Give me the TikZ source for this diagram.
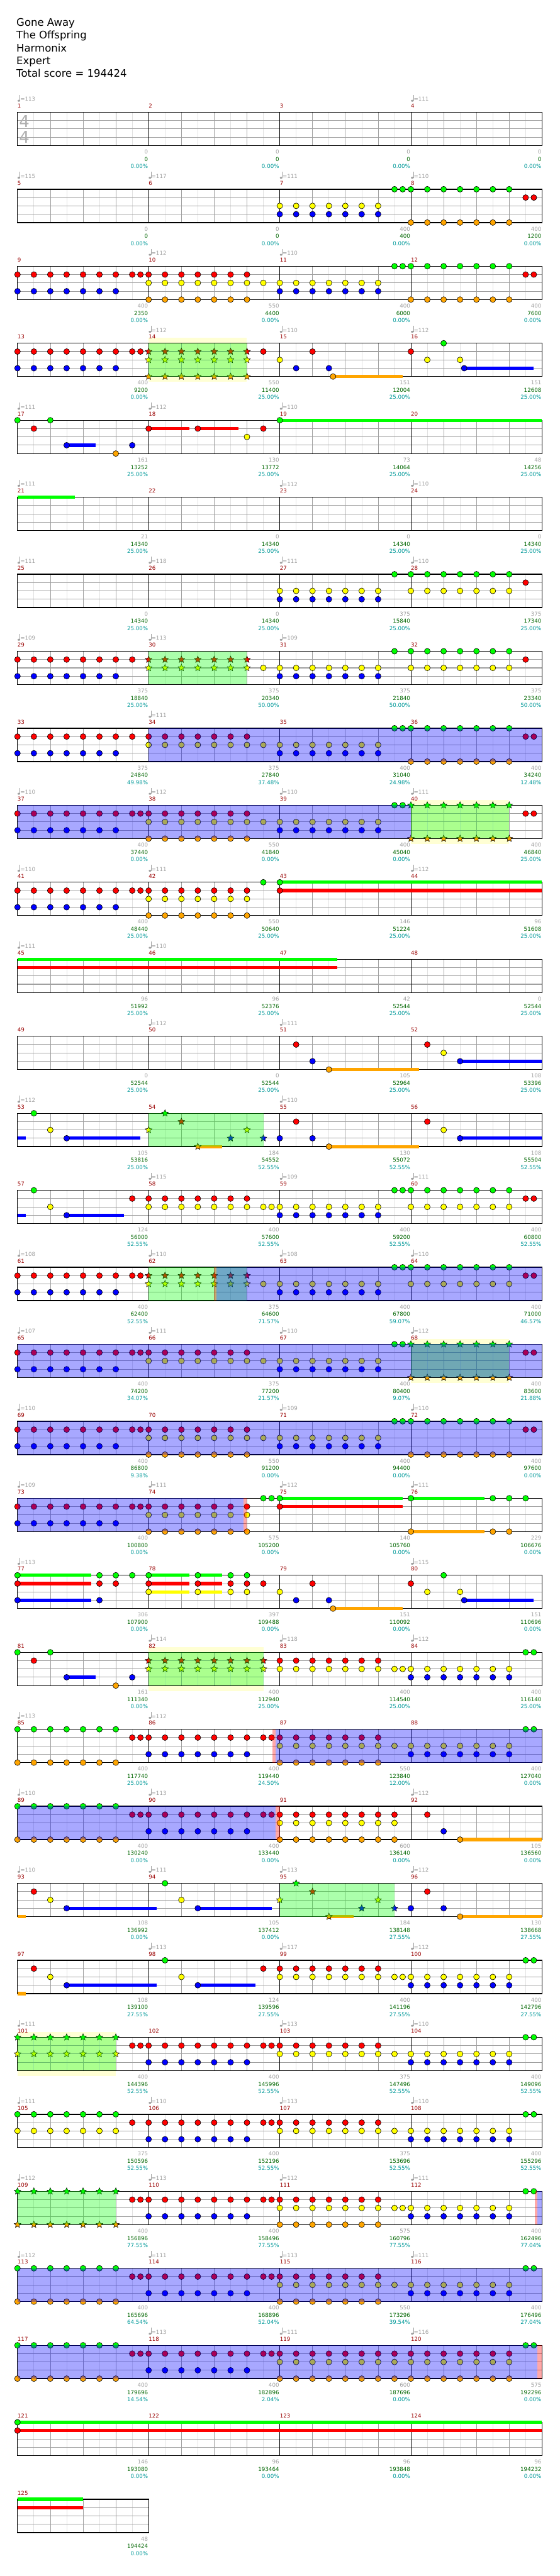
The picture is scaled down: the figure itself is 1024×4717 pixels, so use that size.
\documentclass[tikz,border=0pt]{standalone}
\usepackage{fontspec}
\setmainfont{DejaVu Sans}
\usepackage{tikz}
\usetikzlibrary{shapes.geometric}

\definecolor{lanegreen}{RGB}{0,255,0}
\definecolor{lanered}{RGB}{255,0,0}
\definecolor{laneyellow}{RGB}{255,255,0}
\definecolor{laneblue}{RGB}{0,0,255}
\definecolor{laneorange}{RGB}{255,165,0}
\definecolor{barred}{RGB}{153,0,0}
\definecolor{ptsgray}{RGB}{160,160,160}
\definecolor{sumgreen}{RGB}{0,102,0}
\definecolor{pctteal}{RGB}{0,153,153}
\definecolor{bandyellow}{RGB}{255,255,212}
\definecolor{halfgray}{RGB}{225,225,225}
\definecolor{beatgray}{RGB}{160,160,160}
\definecolor{sigray}{RGB}{175,175,175}

\tikzset{
  lbl/.style={font=\fontsize{10}{12}\selectfont, inner sep=0pt},
  songtitle/.style={font=\fontsize{19}{23}\selectfont, inner sep=0pt, anchor=base west},
  gem/.style={circle, draw=black, line width=0.7pt, minimum size=10.6pt, inner sep=0pt},
  stargem/.style={star, star points=5, star point ratio=2.2, draw=black, line width=0.6pt, minimum size=13pt, inner sep=0pt},
  halfline/.style={halfgray, line width=0.8pt},
  beatline/.style={beatgray, line width=0.8pt},
  laneline/.style={beatgray, line width=1.2pt},
  barline/.style={black, line width=0.9pt},
  border/.style={black, line width=1.5pt},
  sustbar/.style={line width=6pt},
}

% RIGA: griglia
\newcommand{\rowgrid}[2]{%
  \pgfmathsetmacro{\rowT}{205.5+141*(#1-1)}%
  \pgfmathtruncatemacro{\nlast}{8*#2-1}%
  \foreach \e in {1,...,\nlast}{%
    \pgfmathtruncatemacro{\odd}{mod(\e,2)}%
    \ifnum\odd=1
      \draw[halfline] (32+30*\e,\rowT) -- ++(0,61);
    \else
      \draw[beatline] (32+30*\e,\rowT) -- ++(0,61);
    \fi
  }
  \foreach \lane in {1,2,3}
    \draw[laneline] (32,\rowT+15.25*\lane) -- ++(240*#2,0);
  \foreach \jj in {1,...,#2}
    \draw[barline] (32+240*\jj-240,\rowT) -- ++(0,61);
  \draw[border] (32,\rowT) rectangle ++(240*#2,61);
}
% NOTE: riga, corda, colore, posizioni (ottavi)
\newcommand{\gems}[4]{%
  \pgfmathsetmacro{\rowT}{205.5+141*(#1-1)}%
  \foreach \pos [count=\idx] in {#4}
    \node[gem, fill=#3] (gem-#1-#2-\idx) at (32+30*\pos,\rowT+15.25*#2) {};
}
\newcommand{\stargems}[4]{%
  \pgfmathsetmacro{\rowT}{205.5+141*(#1-1)}%
  \foreach \pos [count=\idx] in {#4}
    \node[stargem, fill=#3] (star-#1-#2-\idx) at (32+30*\pos,\rowT+15.25*#2) {};
}
\newcommand{\sust}[5]{%
  \pgfmathsetmacro{\rowT}{205.5+141*(#1-1)}%
  \draw[sustbar, #3] (32+30*#4,\rowT+15.25*#2) -- (32+30*#5,\rowT+15.25*#2);
}
% ZONE
\newcommand{\spband}[3]{%
  \pgfmathsetmacro{\rowT}{205.5+141*(#1-1)}%
  \fill[bandyellow] (32+30*#2,\rowT-10) rectangle (32+30*#3,\rowT+71);
}
\newcommand{\spzone}[3]{%
  \pgfmathsetmacro{\rowT}{205.5+141*(#1-1)}%
  \fill[lanegreen, fill opacity=0.33] (32+30*#2,\rowT) rectangle (32+30*#3,\rowT+61);
}
\newcommand{\odzone}[3]{%
  \pgfmathsetmacro{\rowT}{205.5+141*(#1-1)}%
  \fill[laneblue, fill opacity=0.34] (32+30*#2,\rowT) rectangle (32+30*#3,\rowT+61);
}
\newcommand{\pinkzone}[3]{%
  \pgfmathsetmacro{\rowT}{205.5+141*(#1-1)}%
  \fill[lanered, fill opacity=0.34] (32+30*#2,\rowT) rectangle (32+30*#3,\rowT+61);
}
% TESTI
\newcommand{\tempos}[2]{%
  \pgfmathsetmacro{\rowT}{205.5+141*(#1-1)}%
  \foreach \jj/\bpm in {#2}{
    \pgfmathtruncatemacro{\mnum}{4*(#1-1)+\jj+1}
    \fill[ptsgray] (32+240*\jj+2.5,\rowT-21) ellipse (2.4pt and 1.8pt);
    \draw[ptsgray, line width=0.8pt] (32+240*\jj+4.6,\rowT-21) -- ++(0,-11);
    \node[lbl, ptsgray, anchor=west] (tempo-\mnum) at (32+240*\jj+5,\rowT-24) {=\bpm};
  }
}
\newcommand{\barnums}[2]{%
  \pgfmathsetmacro{\rowT}{205.5+141*(#1-1)}%
  \foreach \jj in {1,...,#2}{
    \pgfmathtruncatemacro{\mnum}{4*(#1-1)+\jj}
    \node[lbl, barred, anchor=west] (bar-\mnum) at (32+240*\jj-240,\rowT-11.5) {\mnum};
  }
}
\newcommand{\scorerow}[2]{%
  \pgfmathsetmacro{\rowT}{205.5+141*(#1-1)}%
  \foreach \jj/\ptsv/\sumv/\pctv in {#2}{
    \pgfmathtruncatemacro{\mnum}{4*(#1-1)+\jj+1}
    \node[lbl, ptsgray, anchor=east] (pts-\mnum) at (31+240*\jj+240,\rowT+72.5) {\ptsv};
    \node[lbl, sumgreen, anchor=east] (sum-\mnum) at (31+240*\jj+240,\rowT+86) {\sumv};
    \node[lbl, pctteal, anchor=east] (pct-\mnum) at (31+240*\jj+240,\rowT+99) {\pctv\%};
  }
}

\begin{document}
\begin{tikzpicture}[x=1pt, y=-1pt]
  \useasboundingbox (0,0) rectangle (1024,4717);
  \fill[white] (0,0) rectangle (1024,4717);

  % TITOLO
  \node[songtitle] (song) at (30,48) {Gone Away};
  \node[songtitle] (artist) at (30,71.3) {The Offspring};
  \node[songtitle] (author) at (30,94.6) {Harmonix};
  \node[songtitle] (level) at (30,117.9) {Expert};
  \node[songtitle] (total) at (30,141) {Total score = 194424};

  % RIGA 1
  \rowgrid{1}{4}
  \node[font=\fontsize{30}{30}\selectfont, sigray, inner sep=0pt] (sig-top) at (44.5,222.5) {4};
  \node[font=\fontsize{30}{30}\selectfont, sigray, inner sep=0pt] (sig-bot) at (44.5,251.3) {4};
  \tempos{1}{0/113,3/111}
  \barnums{1}{4}
  \scorerow{1}{0/0/0/0.00,1/0/0/0.00,2/0/0/0.00,3/0/0/0.00}

  % RIGA 2
  \rowgrid{2}{4}
  \gems{2}{0}{lanegreen}{23,23.5,24,25,26,27,28,29,30}
  \gems{2}{1}{lanered}{31,31.5}
  \gems{2}{2}{laneyellow}{16,...,22}
  \gems{2}{3}{laneblue}{16,...,22}
  \gems{2}{4}{laneorange}{24,...,30}
  \tempos{2}{0/115,1/117,2/111,3/110}
  \barnums{2}{4}
  \scorerow{2}{0/0/0/0.00,1/0/0/0.00,2/400/400/0.00,3/400/1200/0.00}

  % RIGA 3
  \rowgrid{3}{4}
  \gems{3}{0}{lanegreen}{23,23.5,24,25,26,27,28,29,30}
  \gems{3}{1}{lanered}{0,1,2,3,4,5,6,7,7.5,8,9,10,11,12,13,14,31,31.5}
  \gems{3}{2}{laneyellow}{8,...,22}
  \gems{3}{3}{laneblue}{0,1,2,3,4,5,6,16,17,18,19,20,21,22}
  \gems{3}{4}{laneorange}{8,9,10,11,12,13,14,24,25,26,27,28,29,30}
  \tempos{3}{1/112,2/110}
  \barnums{3}{4}
  \scorerow{3}{0/400/2350/0.00,1/550/4400/0.00,2/400/6000/0.00,3/400/7600/0.00}

  % RIGA 4
  \spband{4}{8}{14}
  \rowgrid{4}{4}
  \sust{4}{4}{laneorange}{19.25}{23.5}
  \sust{4}{3}{laneblue}{27.25}{31.5}
  \gems{4}{0}{lanegreen}{26}
  \gems{4}{1}{lanered}{0,1,2,3,4,5,6,7,7.5,15,18,24}
  \gems{4}{2}{laneyellow}{16,25,27}
  \gems{4}{3}{laneblue}{0,1,2,3,4,5,6,17,19,27.25}
  \gems{4}{4}{laneorange}{19.25}
  \stargems{4}{1}{lanered}{8,...,14}
  \stargems{4}{2}{laneyellow}{8,...,14}
  \stargems{4}{4}{laneorange}{8,...,14}
  \spzone{4}{8}{14}
  \tempos{4}{1/112,2/110,3/112}
  \barnums{4}{4}
  \scorerow{4}{0/400/9200/0.00,1/550/11400/25.00,2/151/12004/25.00,3/151/12608/25.00}

  % RIGA 5
  \rowgrid{5}{4}
  \sust{5}{3}{laneblue}{3}{4.75}
  \sust{5}{1}{lanered}{8}{10.5}
  \sust{5}{1}{lanered}{11}{13.5}
  \sust{5}{0}{lanegreen}{16}{32}
  \gems{5}{0}{lanegreen}{0,2,16}
  \gems{5}{1}{lanered}{1,8,11,15}
  \gems{5}{2}{laneyellow}{14}
  \gems{5}{3}{laneblue}{3,7}
  \gems{5}{4}{laneorange}{6}
  \tempos{5}{0/111,1/112,2/110}
  \barnums{5}{4}
  \scorerow{5}{0/161/13252/25.00,1/130/13772/25.00,2/73/14064/25.00,3/48/14256/25.00}

  % RIGA 6
  \rowgrid{6}{4}
  \sust{6}{0}{lanegreen}{0}{3.5}
  \tempos{6}{0/111,2/112,3/110}
  \barnums{6}{4}
  \scorerow{6}{0/21/14340/25.00,1/0/14340/25.00,2/0/14340/25.00,3/0/14340/25.00}

  % RIGA 7
  \rowgrid{7}{4}
  \gems{7}{0}{lanegreen}{23,24,25,26,27,28,29,30}
  \gems{7}{1}{lanered}{31}
  \gems{7}{2}{laneyellow}{16,17,18,19,20,21,22,24,25,26,27,28,29,30}
  \gems{7}{3}{laneblue}{16,...,22}
  \tempos{7}{0/111,1/118,2/111,3/110}
  \barnums{7}{4}
  \scorerow{7}{0/0/14340/25.00,1/0/14340/25.00,2/375/15840/25.00,3/375/17340/25.00}

  % RIGA 8
  \rowgrid{8}{4}
  \gems{8}{0}{lanegreen}{23,24,25,26,27,28,29,30}
  \gems{8}{1}{lanered}{0,1,2,3,4,5,6,7,31}
  \gems{8}{2}{laneyellow}{15,16,17,18,19,20,21,22,24,25,26,27,28,29,30}
  \gems{8}{3}{laneblue}{0,1,2,3,4,5,6,16,17,18,19,20,21,22}
  \stargems{8}{1}{lanered}{8,...,14}
  \stargems{8}{2}{laneyellow}{8,...,14}
  \spzone{8}{8}{14}
  \tempos{8}{0/109,1/113,2/109}
  \barnums{8}{4}
  \scorerow{8}{0/375/18840/25.00,1/375/20340/50.00,2/375/21840/50.00,3/375/23340/50.00}

  % RIGA 9
  \rowgrid{9}{4}
  \gems{9}{0}{lanegreen}{23,23.5,24,25,26,27,28,29,30}
  \gems{9}{1}{lanered}{0,1,2,3,4,5,6,7,8,9,10,11,12,13,14,31,31.5}
  \gems{9}{2}{laneyellow}{8,...,22}
  \gems{9}{3}{laneblue}{0,1,2,3,4,5,6,16,17,18,19,20,21,22}
  \gems{9}{4}{laneorange}{24,...,30}
  \odzone{9}{8}{32}
  \tempos{9}{1/111}
  \barnums{9}{4}
  \scorerow{9}{0/375/24840/49.98,1/375/27840/37.48,2/400/31040/24.98,3/400/34240/12.48}

  % RIGA 10
  \spband{10}{24}{30}
  \rowgrid{10}{4}
  \gems{10}{0}{lanegreen}{23,23.5}
  \gems{10}{1}{lanered}{0,1,2,3,4,5,6,7,7.5,8,9,10,11,12,13,14,31,31.5}
  \gems{10}{2}{laneyellow}{8,...,22}
  \gems{10}{3}{laneblue}{0,1,2,3,4,5,6,16,17,18,19,20,21,22}
  \gems{10}{4}{laneorange}{8,...,14}
  \stargems{10}{0}{lanegreen}{24,...,30}
  \stargems{10}{4}{laneorange}{24,...,30}
  \odzone{10}{0}{24}
  \spzone{10}{24}{30}
  \tempos{10}{0/110,1/112,2/110,3/111}
  \barnums{10}{4}
  \scorerow{10}{0/400/37440/0.00,1/550/41840/0.00,2/400/45040/0.00,3/400/46840/25.00}

  % RIGA 11
  \rowgrid{11}{4}
  \sust{11}{0}{lanegreen}{16}{32}
  \sust{11}{1}{lanered}{16}{32}
  \gems{11}{0}{lanegreen}{15,16}
  \gems{11}{1}{lanered}{0,1,2,3,4,5,6,7,7.5,8,9,10,11,12,13,14,16}
  \gems{11}{2}{laneyellow}{8,...,14}
  \gems{11}{3}{laneblue}{0,...,6}
  \gems{11}{4}{laneorange}{8,...,14}
  \tempos{11}{0/110,1/111,3/112}
  \barnums{11}{4}
  \scorerow{11}{0/400/48440/25.00,1/550/50640/25.00,2/146/51224/25.00,3/96/51608/25.00}

  % RIGA 12
  \rowgrid{12}{4}
  \sust{12}{0}{lanegreen}{0}{19.5}
  \sust{12}{1}{lanered}{0}{19.5}
  \tempos{12}{0/111,1/110}
  \barnums{12}{4}
  \scorerow{12}{0/96/51992/25.00,1/96/52376/25.00,2/42/52544/25.00,3/0/52544/25.00}

  % RIGA 13
  \rowgrid{13}{4}
  \sust{13}{4}{laneorange}{19}{24.5}
  \sust{13}{3}{laneblue}{27}{32}
  \gems{13}{1}{lanered}{17,25}
  \gems{13}{2}{laneyellow}{26}
  \gems{13}{3}{laneblue}{18,27}
  \gems{13}{4}{laneorange}{19}
  \tempos{13}{1/112,2/111}
  \barnums{13}{4}
  \scorerow{13}{0/0/52544/25.00,1/0/52544/25.00,2/105/52964/25.00,3/108/53396/25.00}

  % RIGA 14
  \rowgrid{14}{4}
  \sust{14}{3}{laneblue}{0}{0.5}
  \sust{14}{3}{laneblue}{3}{7.5}
  \sust{14}{4}{laneorange}{11}{12.5}
  \sust{14}{4}{laneorange}{19}{24.5}
  \sust{14}{3}{laneblue}{27}{32}
  \gems{14}{0}{lanegreen}{1}
  \gems{14}{1}{lanered}{17,25}
  \gems{14}{2}{laneyellow}{2,26}
  \gems{14}{3}{laneblue}{3,16,18,27}
  \gems{14}{4}{laneorange}{19}
  \stargems{14}{0}{lanegreen}{9}
  \stargems{14}{1}{lanered}{10}
  \stargems{14}{2}{laneyellow}{8,14}
  \stargems{14}{3}{laneblue}{13,15}
  \stargems{14}{4}{laneorange}{11}
  \spzone{14}{8}{15}
  \tempos{14}{0/112,2/110}
  \barnums{14}{4}
  \scorerow{14}{0/105/53816/25.00,1/184/54552/52.55,2/130/55072/52.55,3/108/55504/52.55}

  % RIGA 15
  \rowgrid{15}{4}
  \sust{15}{3}{laneblue}{0}{0.5}
  \sust{15}{3}{laneblue}{3}{6.5}
  \gems{15}{0}{lanegreen}{1,23,23.5,24,25,26,27,28,29,30}
  \gems{15}{1}{lanered}{7,8,9,10,11,12,13,14,31,31.5}
  \gems{15}{2}{laneyellow}{2,8,9,10,11,12,13,14,15,15.5,16,17,18,19,20,21,22,24,25,26,27,28,29,30}
  \gems{15}{3}{laneblue}{3,16,17,18,19,20,21,22}
  \tempos{15}{1/115,2/109,3/111}
  \barnums{15}{4}
  \scorerow{15}{0/124/56000/52.55,1/400/57600/52.55,2/400/59200/52.55,3/400/60800/52.55}

  % RIGA 16
  \rowgrid{16}{4}
  \gems{16}{0}{lanegreen}{23,23.5,24,25,26,27,28,29,30}
  \gems{16}{1}{lanered}{0,1,2,3,4,5,6,7,7.5,31,31.5}
  \gems{16}{2}{laneyellow}{15,16,17,18,19,20,21,22,24,25,26,27,28,29,30}
  \gems{16}{3}{laneblue}{0,1,2,3,4,5,6,16,17,18,19,20,21,22}
  \stargems{16}{1}{lanered}{8,...,14}
  \stargems{16}{2}{laneyellow}{8,...,14}
  \spzone{16}{8}{14}
  \pinkzone{16}{12}{12.15}
  \odzone{16}{12.15}{32}
  \tempos{16}{0/108,1/110,2/108,3/110}
  \barnums{16}{4}
  \scorerow{16}{0/400/62400/52.55,1/375/64600/71.57,2/400/67800/59.07,3/400/71000/46.57}

  % RIGA 17
  \spband{17}{24}{30}
  \rowgrid{17}{4}
  \gems{17}{0}{lanegreen}{23,23.5}
  \gems{17}{1}{lanered}{0,1,2,3,4,5,6,7,7.5,8,9,10,11,12,13,14,31,31.5}
  \gems{17}{2}{laneyellow}{8,...,22}
  \gems{17}{3}{laneblue}{0,1,2,3,4,5,6,16,17,18,19,20,21,22}
  \stargems{17}{0}{lanegreen}{24,...,30}
  \stargems{17}{4}{laneorange}{24,...,30}
  \spzone{17}{24}{30}
  \odzone{17}{0}{32}
  \tempos{17}{0/107,1/111,2/110,3/112}
  \barnums{17}{4}
  \scorerow{17}{0/400/74200/34.07,1/375/77200/21.57,2/400/80400/9.07,3/400/83600/21.88}

  % RIGA 18
  \rowgrid{18}{4}
  \gems{18}{0}{lanegreen}{23,23.5,24,25,26,27,28,29,30}
  \gems{18}{1}{lanered}{0,1,2,3,4,5,6,7,7.5,8,9,10,11,12,13,14,31,31.5}
  \gems{18}{2}{laneyellow}{8,...,22}
  \gems{18}{3}{laneblue}{0,1,2,3,4,5,6,16,17,18,19,20,21,22}
  \gems{18}{4}{laneorange}{8,9,10,11,12,13,14,24,25,26,27,28,29,30}
  \odzone{18}{0}{32}
  \tempos{18}{0/110,2/109,3/110}
  \barnums{18}{4}
  \scorerow{18}{0/400/86800/9.38,1/550/91200/0.00,2/400/94400/0.00,3/400/97600/0.00}

  % RIGA 19
  \rowgrid{19}{4}
  \sust{19}{0}{lanegreen}{16}{23.5}
  \sust{19}{1}{lanered}{16}{23.5}
  \sust{19}{0}{lanegreen}{24}{28.5}
  \sust{19}{4}{laneorange}{24}{28.5}
  \gems{19}{0}{lanegreen}{15,15.5,16,24,29,30,31}
  \gems{19}{1}{lanered}{0,1,2,3,4,5,6,7,7.5,8,9,10,11,12,13,14,16}
  \gems{19}{2}{laneyellow}{8,...,14}
  \gems{19}{3}{laneblue}{0,...,6}
  \gems{19}{4}{laneorange}{8,9,10,11,12,13,14,24,29,30}
  \odzone{19}{0}{13.8}
  \pinkzone{19}{13.8}{14}
  \tempos{19}{0/109,1/111,2/112,3/111}
  \barnums{19}{4}
  \scorerow{19}{0/400/100800/0.00,1/575/105200/0.00,2/140/105760/0.00,3/229/106676/0.00}

  % RIGA 20
  \rowgrid{20}{4}
  \sust{20}{0}{lanegreen}{0}{4.5}
  \sust{20}{1}{lanered}{0}{4.5}
  \sust{20}{3}{laneblue}{0}{4.5}
  \sust{20}{0}{lanegreen}{8}{10.5}
  \sust{20}{1}{lanered}{8}{10.5}
  \sust{20}{2}{laneyellow}{8}{10.5}
  \sust{20}{0}{lanegreen}{11}{12.5}
  \sust{20}{1}{lanered}{11}{12.5}
  \sust{20}{2}{laneyellow}{11}{12.5}
  \sust{20}{4}{laneorange}{19.25}{23.5}
  \sust{20}{3}{laneblue}{27.25}{31.5}
  \gems{20}{0}{lanegreen}{0,5,6,7,8,11,13,14,26}
  \gems{20}{1}{lanered}{0,5,6,8,11,13,14,15,18,24}
  \gems{20}{2}{laneyellow}{8,11,13,14,16,25,27}
  \gems{20}{3}{laneblue}{0,5,17,19,27.25}
  \gems{20}{4}{laneorange}{19.25}
  \tempos{20}{0/113,3/115}
  \barnums{20}{4}
  \scorerow{20}{0/306/107900/0.00,1/397/109488/0.00,2/151/110092/0.00,3/151/110696/0.00}

  % RIGA 21
  \spband{21}{8}{15}
  \rowgrid{21}{4}
  \sust{21}{3}{laneblue}{3}{4.75}
  \gems{21}{0}{lanegreen}{0,2,31,31.5}
  \gems{21}{1}{lanered}{1,16,17,18,19,20,21,22}
  \gems{21}{2}{laneyellow}{16,17,18,19,20,21,22,23,23.5,24,25,26,27,28,29,30}
  \gems{21}{3}{laneblue}{3,7,24,25,26,27,28,29,30}
  \gems{21}{4}{laneorange}{6}
  \stargems{21}{1}{lanered}{8,...,15}
  \stargems{21}{2}{laneyellow}{8,...,15}
  \spzone{21}{8}{15}
  \tempos{21}{1/114,2/118,3/112}
  \barnums{21}{4}
  \scorerow{21}{0/161/111340/0.00,1/400/112940/25.00,2/400/114540/25.00,3/400/116140/25.00}

  % RIGA 22
  \rowgrid{22}{4}
  \gems{22}{0}{lanegreen}{0,1,2,3,4,5,6,31,31.5}
  \gems{22}{1}{lanered}{7,7.5,8,9,10,11,12,13,14,15,15.5,16,17,18,19,20,21,22}
  \gems{22}{2}{laneyellow}{16,17,18,19,20,21,22,23,24,25,26,27,28,29,30}
  \gems{22}{3}{laneblue}{8,9,10,11,12,13,14,24,25,26,27,28,29,30}
  \gems{22}{4}{laneorange}{0,1,2,3,4,5,6,16,17,18,19,20,21,22}
  \pinkzone{22}{15.55}{15.75}
  \odzone{22}{15.75}{32}
  \tempos{22}{0/113,1/112}
  \barnums{22}{4}
  \scorerow{22}{0/400/117740/25.00,1/400/119440/24.50,2/550/123840/12.00,3/400/127040/0.00}

  % RIGA 23
  \rowgrid{23}{4}
  \sust{23}{4}{laneorange}{27}{32}
  \gems{23}{0}{lanegreen}{0,...,6}
  \gems{23}{1}{lanered}{7,7.5,8,9,10,11,12,13,14,15,15.5,16,17,18,19,20,21,22,23,25}
  \gems{23}{2}{laneyellow}{16,...,23}
  \gems{23}{3}{laneblue}{8,9,10,11,12,13,14,26}
  \gems{23}{4}{laneorange}{0,1,2,3,4,5,6,16,17,18,19,20,21,22,23,27}
  \odzone{23}{0}{15.75}
  \pinkzone{23}{15.75}{16}
  \tempos{23}{0/110,1/113,3/112}
  \barnums{23}{4}
  \scorerow{23}{0/400/130240/0.00,1/400/133440/0.00,2/600/136140/0.00,3/105/136560/0.00}

  % RIGA 24
  \rowgrid{24}{4}
  \sust{24}{4}{laneorange}{0}{0.5}
  \sust{24}{3}{laneblue}{3}{8.5}
  \sust{24}{3}{laneblue}{11}{15.5}
  \sust{24}{4}{laneorange}{19}{20.5}
  \sust{24}{4}{laneorange}{27}{32}
  \gems{24}{0}{lanegreen}{9}
  \gems{24}{1}{lanered}{1,25}
  \gems{24}{2}{laneyellow}{2,10}
  \gems{24}{3}{laneblue}{3,11,24,26}
  \gems{24}{4}{laneorange}{27}
  \stargems{24}{0}{lanegreen}{17}
  \stargems{24}{1}{lanered}{18}
  \stargems{24}{2}{laneyellow}{16,22}
  \stargems{24}{3}{laneblue}{21,23}
  \stargems{24}{4}{laneorange}{19}
  \spzone{24}{16}{23}
  \tempos{24}{0/110,1/111,2/113,3/112}
  \barnums{24}{4}
  \scorerow{24}{0/108/136992/0.00,1/105/137412/0.00,2/184/138148/27.55,3/130/138668/27.55}

  % RIGA 25
  \rowgrid{25}{4}
  \sust{25}{4}{laneorange}{0}{0.5}
  \sust{25}{3}{laneblue}{3}{8.5}
  \sust{25}{3}{laneblue}{11}{14.5}
  \gems{25}{0}{lanegreen}{9,31,31.5}
  \gems{25}{1}{lanered}{1,15,16,17,18,19,20,21,22}
  \gems{25}{2}{laneyellow}{2,10,16,17,18,19,20,21,22,23,23.5,24,25,26,27,28,29,30}
  \gems{25}{3}{laneblue}{3,11,24,25,26,27,28,29,30}
  \tempos{25}{1/113,2/117,3/112}
  \barnums{25}{4}
  \scorerow{25}{0/108/139100/27.55,1/124/139596/27.55,2/400/141196/27.55,3/400/142796/27.55}

  % RIGA 26
  \spband{26}{0}{6}
  \rowgrid{26}{4}
  \gems{26}{0}{lanegreen}{31,31.5}
  \gems{26}{1}{lanered}{7,7.5,8,9,10,11,12,13,14,15,15.5,16,17,18,19,20,21,22}
  \gems{26}{2}{laneyellow}{16,17,18,19,20,21,22,23,24,25,26,27,28,29,30}
  \gems{26}{3}{laneblue}{8,9,10,11,12,13,14,24,25,26,27,28,29,30}
  \stargems{26}{0}{lanegreen}{0,...,6}
  \stargems{26}{2}{laneyellow}{0,...,6}
  \spzone{26}{0}{6}
  \tempos{26}{0/111,2/113,3/110}
  \barnums{26}{4}
  \scorerow{26}{0/400/144396/52.55,1/400/145996/52.55,2/375/147496/52.55,3/400/149096/52.55}

  % RIGA 27
  \rowgrid{27}{4}
  \gems{27}{0}{lanegreen}{0,1,2,3,4,5,6,31,31.5}
  \gems{27}{1}{lanered}{7,8,9,10,11,12,13,14,15,15.5,16,17,18,19,20,21,22}
  \gems{27}{2}{laneyellow}{0,1,2,3,4,5,6,16,17,18,19,20,21,22,23,24,25,26,27,28,29,30}
  \gems{27}{3}{laneblue}{8,9,10,11,12,13,14,24,25,26,27,28,29,30}
  \tempos{27}{0/111,1/110,2/113,3/110}
  \barnums{27}{4}
  \scorerow{27}{0/375/150596/52.55,1/400/152196/52.55,2/375/153696/52.55,3/400/155296/52.55}

  % RIGA 28
  \rowgrid{28}{4}
  \gems{28}{0}{lanegreen}{31,31.5}
  \gems{28}{1}{lanered}{7,7.5,8,9,10,11,12,13,14,15,15.5,16,17,18,19,20,21,22}
  \gems{28}{2}{laneyellow}{16,17,18,19,20,21,22,23,23.5,24,25,26,27,28,29,30}
  \gems{28}{3}{laneblue}{8,9,10,11,12,13,14,24,25,26,27,28,29,30}
  \gems{28}{4}{laneorange}{16,...,22}
  \stargems{28}{0}{lanegreen}{0,...,6}
  \stargems{28}{4}{laneorange}{0,...,6}
  \spzone{28}{0}{6}
  \pinkzone{28}{31.55}{31.72}
  \odzone{28}{31.72}{32}
  \tempos{28}{0/112,1/113,2/112,3/111}
  \barnums{28}{4}
  \scorerow{28}{0/400/156896/77.55,1/400/158496/77.55,2/575/160796/77.55,3/400/162496/77.04}

  % RIGA 29
  \rowgrid{29}{4}
  \gems{29}{0}{lanegreen}{0,1,2,3,4,5,6,31,31.5}
  \gems{29}{1}{lanered}{7,7.5,8,9,10,11,12,13,14,15,15.5,16,17,18,19,20,21,22}
  \gems{29}{2}{laneyellow}{16,17,18,19,20,21,22,23,24,25,26,27,28,29,30}
  \gems{29}{3}{laneblue}{8,9,10,11,12,13,14,24,25,26,27,28,29,30}
  \gems{29}{4}{laneorange}{0,1,2,3,4,5,6,16,17,18,19,20,21,22}
  \odzone{29}{0}{32}
  \tempos{29}{0/112,1/111,2/113,3/111}
  \barnums{29}{4}
  \scorerow{29}{0/400/165696/64.54,1/400/168896/52.04,2/550/173296/39.54,3/400/176496/27.04}

  % RIGA 30
  \rowgrid{30}{4}
  \gems{30}{0}{lanegreen}{0,1,2,3,4,5,6,31,31.5}
  \gems{30}{1}{lanered}{7,7.5,8,9,10,11,12,13,14,15,15.5,16,17,18,19,20,21,22,23,24,25,26,27,28,29,30}
  \gems{30}{2}{laneyellow}{16,...,30}
  \gems{30}{3}{laneblue}{8,...,14}
  \gems{30}{4}{laneorange}{0,1,2,3,4,5,6,16,17,18,19,20,21,22,23,24,25,26,27,28,29,30}
  \odzone{30}{0}{31.7}
  \pinkzone{30}{31.7}{32}
  \tempos{30}{1/113,2/111,3/116}
  \barnums{30}{4}
  \scorerow{30}{0/400/179696/14.54,1/400/182896/2.04,2/600/187696/0.00,3/575/192296/0.00}

  % RIGA 31
  \rowgrid{31}{4}
  \sust{31}{0}{lanegreen}{0}{32}
  \sust{31}{1}{lanered}{0}{32}
  \gems{31}{0}{lanegreen}{0}
  \gems{31}{1}{lanered}{0}
  \barnums{31}{4}
  \scorerow{31}{0/146/193080/0.00,1/96/193464/0.00,2/96/193848/0.00,3/96/194232/0.00}

  % RIGA 32
  \rowgrid{32}{1}
  \sust{32}{0}{lanegreen}{0}{4}
  \sust{32}{1}{lanered}{0}{4}
  \barnums{32}{1}
  \scorerow{32}{0/48/194424/0.00}
\end{tikzpicture}
\end{document}
